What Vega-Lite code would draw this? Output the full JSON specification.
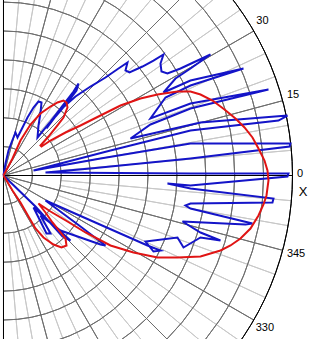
{
  "$schema": "https://vega.github.io/schema/vega-lite/v6.json",
  "width": 314,
  "height": 339,
  "padding": 0,
  "autosize": {"type": "none"},
  "background": "white",
  "config": {"view": {"stroke": null}},
  "datasets": {
    "blue": [
      {"x":0,"y":0},{"x":0.69,"y":4.15},{"x":1.73,"y":8.65},{"x":2.77,"y":11.42},{"x":4.15,"y":14.88},{"x":4.84,"y":13.15},{"x":6.23,"y":15.92},{"x":8.30,"y":20.07},{"x":10.38,"y":23.53},{"x":12.11,"y":25.60},{"x":13.15,"y":25.26},{"x":12.80,"y":21.80},{"x":12.11,"y":17.30},{"x":11.76,"y":13.15},
      {"x":16.26,"y":18.68},{"x":20.76,"y":24.57},{"x":24.22,"y":29.06},{"x":25.95,"y":31.83},{"x":25.26,"y":29.41},{"x":21.80,"y":24.91},{"x":17.99,"y":20.41},{"x":14.88,"y":16.26},
      {"x":19.03,"y":22.14},{"x":24.91,"y":27.33},{"x":30.10,"y":30.79},{"x":35.29,"y":33.91},{"x":39.79,"y":37.02},{"x":42.90,"y":39.10},{"x":42.21,"y":36.33},{"x":43.60,"y":35.64},{"x":48.09,"y":37.71},{"x":51.90,"y":39.79},{"x":55.36,"y":41.87},{"x":54.32,"y":38.75},{"x":54.67,"y":35.98},{"x":56.74,"y":35.29},{"x":61.24,"y":37.02},{"x":66.43,"y":39.44},{"x":71.62,"y":41.87},
      {"x":64.70,"y":37.02},{"x":59.51,"y":33.56},{"x":55.36,"y":28.72},{"x":64.70,"y":32.87},{"x":83.04,"y":37.02},{"x":64.70,"y":31.14},{"x":56.05,"y":26.99},{"x":50.86,"y":19.72},{"x":64.70,"y":24.91},{"x":91.69,"y":29.76},{"x":64.70,"y":23.18},{"x":50.86,"y":17.65},{"x":43.94,"y":12.80},{"x":68.16,"y":18.34},{"x":98.26,"y":20.76},{"x":95.15,"y":19.03},{"x":64.70,"y":15.57},{"x":37.02,"y":8.65},
      {"x":10.38,"y":1.73},{"x":33.56,"y":5.88},{"x":64.70,"y":11.07},{"x":99.30,"y":11.07},{"x":98.96,"y":10.03},{"x":64.70,"y":5.88},{"x":30.10,"y":2.42},{"x":14.53,"y":1.04},{"x":64.70,"y":0.69},{"x":98.61,"y":0.69},{"x":98.26,"y":-0.35},{"x":64.70,"y":-3.46},{"x":56.74,"y":-2.77},{"x":64.70,"y":-4.50},{"x":93.42,"y":-7.96},{"x":93.07,"y":-9.34},{"x":64.70,"y":-9.69},{"x":62.97,"y":-10.38},{"x":64.70,"y":-11.42},{"x":86.15,"y":-16.61},{"x":83.73,"y":-16.95},{"x":61.93,"y":-15.92},
      {"x":68.16,"y":-19.72},{"x":75.08,"y":-22.49},{"x":68.16,"y":-21.45},{"x":62.28,"y":-24.91},{"x":60.20,"y":-21.45},{"x":49.13,"y":-22.84},{"x":51.90,"y":-26.30},{"x":54.32,"y":-25.95},{"x":49.82,"y":-24.22},{"x":14.53,"y":-8.65},{"x":26.64,"y":-17.65},{"x":35.29,"y":-24.22},{"x":33.56,"y":-23.87},{"x":19.72,"y":-19.03},{"x":12.80,"y":-13.84},{"x":16.26,"y":-20.07},{"x":14.88,"y":-20.07},{"x":10.38,"y":-11.07},{"x":16.26,"y":-16.26},{"x":23.18,"y":-22.49},{"x":20.41,"y":-21.11},{"x":11.07,"y":-10.73},{"x":0,"y":0}
    ],
    "red": [
      {"x":0,"y":0},{"x":3.11,"y":5.88},{"x":5.88,"y":12.11},{"x":9.34,"y":17.65},{"x":12.80,"y":21.45},{"x":16.26,"y":23.87},{"x":18.68,"y":25.26},{"x":20.76,"y":25.95},{"x":21.80,"y":25.26},{"x":22.14,"y":23.53},{"x":20.76,"y":20.07},{"x":18.34,"y":16.95},{"x":15.57,"y":13.49},{"x":12.80,"y":10.38},{"x":13.15,"y":10.03},
      {"x":16.26,"y":12.11},{"x":21.45,"y":14.88},{"x":26.64,"y":17.30},{"x":33.56,"y":20.76},{"x":40.48,"y":24.22},{"x":47.40,"y":26.64},{"x":53.28,"y":28.03},{"x":60.20,"y":29.06},{"x":64.70,"y":29.06},{"x":68.16,"y":28.03},{"x":72.31,"y":25.95},{"x":76.47,"y":22.84},{"x":80.27,"y":19.72},{"x":83.39,"y":16.61},{"x":86.15,"y":13.15},{"x":88.23,"y":9.34},{"x":90.31,"y":5.19},{"x":91.34,"y":1.73},{"x":91.69,"y":-1.73},{"x":91.00,"y":-6.92},{"x":89.96,"y":-10.03},{"x":88.23,"y":-13.84},{"x":85.46,"y":-18.34},{"x":82.00,"y":-21.80},{"x":78.54,"y":-24.22},{"x":75.08,"y":-25.95},{"x":68.16,"y":-28.03},{"x":60.20,"y":-28.37},{"x":53.28,"y":-28.37},{"x":44.98,"y":-26.64},{"x":37.02,"y":-24.22},{"x":28.37,"y":-19.72},{"x":22.14,"y":-15.92},{"x":16.26,"y":-12.46},{"x":12.11,"y":-9.69},
      {"x":14.53,"y":-12.80},{"x":16.95,"y":-16.26},{"x":19.72,"y":-19.72},{"x":21.45,"y":-21.80},{"x":21.80,"y":-24.22},{"x":20.07,"y":-24.91},{"x":17.30,"y":-23.87},{"x":13.84,"y":-21.45},{"x":11.07,"y":-18.34},{"x":8.65,"y":-14.19},{"x":5.88,"y":-9.34},{"x":3.11,"y":-5.19},{"x":0,"y":0}
    ]
  },
  "layer": [
    {
      "data": {"values": [{"a":85},{"a":80},{"a":70},{"a":65},{"a":55},{"a":50},{"a":40},{"a":35},{"a":25},{"a":20},{"a":10},{"a":5},{"a":-5},{"a":-10},{"a":-20},{"a":-25},{"a":-35},{"a":-40},{"a":-50},{"a":-55},{"a":-65},{"a":-70},{"a":-80},{"a":-85}]},
      "mark": {"type": "arc", "filled": false, "stroke": "#c8c8c8", "strokeWidth": 1},
      "encoding": {
        "x": {"datum": 0, "type": "quantitative", "scale": {"domain": [-1.211, 107.439], "nice": false, "zero": false}, "axis": null},
        "y": {"datum": 0, "type": "quantitative", "scale": {"domain": [-56.574, 60.727], "nice": false, "zero": false}, "axis": null},
        "theta": {"field": "a", "type": "quantitative", "stack": null, "scale": {"type": "linear", "domain": [90, -270], "range": [0, 6.283185307], "zero": false, "nice": false}},
        "theta2": {"field": "a"},
        "radius": {"datum": 100, "type": "quantitative", "scale": {"type": "linear", "domain": [0, 100], "range": [0, 289], "zero": true, "nice": false}},
        "radius2": {"datum": 20}
      }
    },
    {
      "data": {"values": [{"a":75},{"a":60},{"a":45},{"a":30},{"a":15},{"a":-15},{"a":-30},{"a":-45},{"a":-60},{"a":-75}]},
      "mark": {"type": "arc", "filled": false, "stroke": "#6e6e6e", "strokeWidth": 1},
      "encoding": {
        "x": {"datum": 0, "type": "quantitative", "scale": {"domain": [-1.211, 107.439], "nice": false, "zero": false}, "axis": null},
        "y": {"datum": 0, "type": "quantitative", "scale": {"domain": [-56.574, 60.727], "nice": false, "zero": false}, "axis": null},
        "theta": {"field": "a", "type": "quantitative", "stack": null, "scale": {"type": "linear", "domain": [90, -270], "range": [0, 6.283185307], "zero": false, "nice": false}},
        "theta2": {"field": "a"},
        "radius": {"datum": 100, "type": "quantitative", "scale": {"type": "linear", "domain": [0, 100], "range": [0, 289], "zero": true, "nice": false}},
        "radius2": {"datum": 0}
      }
    },
    {
      "data": {"values": [{"r":10},{"r":20},{"r":30},{"r":40},{"r":50},{"r":60},{"r":70},{"r":80},{"r":90}]},
      "mark": {"type": "arc", "filled": false, "stroke": "#6e6e6e", "strokeWidth": 1},
      "encoding": {
        "x": {"datum": 0, "type": "quantitative", "scale": {"domain": [-1.211, 107.439], "nice": false, "zero": false}, "axis": null},
        "y": {"datum": 0, "type": "quantitative", "scale": {"domain": [-56.574, 60.727], "nice": false, "zero": false}, "axis": null},
        "theta": {"datum": 90, "type": "quantitative", "stack": null, "scale": {"type": "linear", "domain": [90, -270], "range": [0, 6.283185307], "zero": false, "nice": false}},
        "theta2": {"datum": -90},
        "radius": {"field": "r", "type": "quantitative", "scale": {"type": "linear", "domain": [0, 100], "range": [0, 289], "zero": true, "nice": false}},
        "radius2": {"field": "r"}
      }
    },
    {
      "data": {"values": [{"a":90},{"a":0},{"a":-90}]},
      "mark": {"type": "arc", "filled": false, "stroke": "#000000", "strokeWidth": 1},
      "encoding": {
        "x": {"datum": 0, "type": "quantitative", "scale": {"domain": [-1.211, 107.439], "nice": false, "zero": false}, "axis": null},
        "y": {"datum": 0, "type": "quantitative", "scale": {"domain": [-56.574, 60.727], "nice": false, "zero": false}, "axis": null},
        "theta": {"field": "a", "type": "quantitative", "stack": null, "scale": {"type": "linear", "domain": [90, -270], "range": [0, 6.283185307], "zero": false, "nice": false}},
        "theta2": {"field": "a"},
        "radius": {"datum": 100, "type": "quantitative", "scale": {"type": "linear", "domain": [0, 100], "range": [0, 289], "zero": true, "nice": false}},
        "radius2": {"datum": 0}
      }
    },
    {
      "data": {"values": [{"r":100}]},
      "mark": {"type": "arc", "filled": false, "stroke": "#000000", "strokeWidth": 1},
      "encoding": {
        "x": {"datum": 0, "type": "quantitative", "scale": {"domain": [-1.211, 107.439], "nice": false, "zero": false}, "axis": null},
        "y": {"datum": 0, "type": "quantitative", "scale": {"domain": [-56.574, 60.727], "nice": false, "zero": false}, "axis": null},
        "theta": {"datum": 90, "type": "quantitative", "stack": null, "scale": {"type": "linear", "domain": [90, -270], "range": [0, 6.283185307], "zero": false, "nice": false}},
        "theta2": {"datum": -90},
        "radius": {"field": "r", "type": "quantitative", "scale": {"type": "linear", "domain": [0, 100], "range": [0, 289], "zero": true, "nice": false}},
        "radius2": {"field": "r"}
      }
    },
    {
      "data": {"name": "blue"},
      "mark": {"type": "line", "stroke": "#1414c8", "strokeWidth": 2, "strokeJoin": "miter"},
      "encoding": {
        "x": {"field": "x", "type": "quantitative", "scale": {"domain": [-1.211, 107.439], "nice": false, "zero": false}, "axis": null},
        "y": {"field": "y", "type": "quantitative", "scale": {"domain": [-56.574, 60.727], "nice": false, "zero": false}, "axis": null},
        "order": {"value": null}
      }
    },
    {
      "data": {"name": "red"},
      "mark": {"type": "line", "stroke": "#e01414", "strokeWidth": 2},
      "encoding": {
        "x": {"field": "x", "type": "quantitative", "scale": {"domain": [-1.211, 107.439], "nice": false, "zero": false}, "axis": null},
        "y": {"field": "y", "type": "quantitative", "scale": {"domain": [-56.574, 60.727], "nice": false, "zero": false}, "axis": null},
        "order": {"value": null}
      }
    },
    {
      "data": {"values": [{"t":"30","a":30.9,"r":104.4},{"t":"15","a":15.5,"r":104.0},{"t":"0","a":0.2,"r":102.6},{"t":"345","a":-15.0,"r":104.8},{"t":"330","a":-30.25,"r":104.7}]},
      "mark": {"type": "text", "align": "center", "baseline": "middle", "font": "Liberation Sans", "fontSize": 11, "fill": "#000000"},
      "encoding": {
        "x": {"datum": 0, "type": "quantitative", "scale": {"domain": [-1.211, 107.439], "nice": false, "zero": false}, "axis": null},
        "y": {"datum": 0, "type": "quantitative", "scale": {"domain": [-56.574, 60.727], "nice": false, "zero": false}, "axis": null},
        "theta": {"field": "a", "type": "quantitative", "stack": null, "scale": {"type": "linear", "domain": [90, -270], "range": [0, 6.283185307], "zero": false, "nice": false}},
        "radius": {"field": "r", "type": "quantitative", "scale": {"type": "linear", "domain": [0, 100], "range": [0, 289], "zero": true, "nice": false}},
        "text": {"field": "t"}
      }
    },
    {
      "data": {"values": [{"t":"X","a":-3.2,"r":103.8}]},
      "mark": {"type": "text", "align": "center", "baseline": "middle", "font": "Liberation Sans", "fontSize": 13, "fill": "#000000"},
      "encoding": {
        "x": {"datum": 0, "type": "quantitative", "scale": {"domain": [-1.211, 107.439], "nice": false, "zero": false}, "axis": null},
        "y": {"datum": 0, "type": "quantitative", "scale": {"domain": [-56.574, 60.727], "nice": false, "zero": false}, "axis": null},
        "theta": {"field": "a", "type": "quantitative", "stack": null, "scale": {"type": "linear", "domain": [90, -270], "range": [0, 6.283185307], "zero": false, "nice": false}},
        "radius": {"field": "r", "type": "quantitative", "scale": {"type": "linear", "domain": [0, 100], "range": [0, 289], "zero": true, "nice": false}},
        "text": {"field": "t"}
      }
    }
  ]
}
